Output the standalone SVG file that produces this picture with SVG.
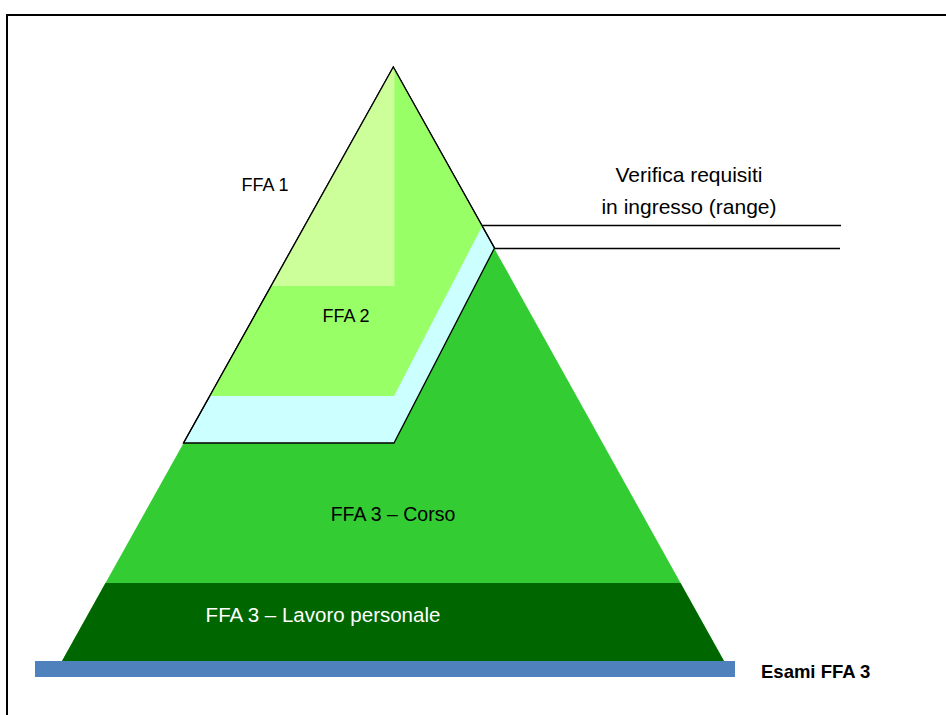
<svg xmlns="http://www.w3.org/2000/svg" width="946" height="715" viewBox="0 0 946 715">
<style>
text{font-family:"Liberation Sans",Arial,sans-serif;fill:#000}
.lbl{text-anchor:middle}
.conn{stroke:#000;stroke-width:1.3;fill:none}
</style>
<rect x="0" y="0" width="946" height="715" fill="#fff"/>
<rect x="7" y="15" width="960" height="720" fill="none" stroke="#000" stroke-width="2"/>
<g id="base-triangle">
<polygon points="393.3,67 62,661 724,661" fill="#33CC33"/>
</g>
<g id="ffa3-lavoro">
<polygon points="105.5,583 680.5,583 724,661 62,661" fill="#006600"/>
<text class="lbl" x="323" y="622" font-size="20.5" style="fill:#fff">FFA 3 – Lavoro personale</text>
</g>
<g id="ffa3-corso">
<text class="lbl" x="393" y="521" font-size="19.5">FFA 3 – Corso</text>
</g>
<g id="verifica-band">
<polygon points="393.3,67 183.5,443 394,443 494.5,248" fill="#CCFFFF" stroke="#000" stroke-width="1.3" stroke-linejoin="miter"/>
</g>
<g id="ffa2">
<polygon points="393.3,67 209.8,396 394,396 482,226.5" fill="#99FF66"/>
<text class="lbl" x="346" y="322" font-size="18">FFA 2</text>
</g>
<g id="ffa1">
<polygon points="393.3,67 271,286 394.5,286 394.5,67" fill="#CCFF99"/>
<text class="lbl" x="265" y="191" font-size="18">FFA 1</text>
</g>
<g id="outline">
<polyline points="183.5,443 393.3,67 494.5,248" fill="none" stroke="#000" stroke-width="1.3"/>
</g>
<g id="connectors">
<line class="conn" x1="482" y1="225.5" x2="841" y2="225.5"/>
<line class="conn" x1="494.5" y1="248.5" x2="840" y2="248.5"/>
</g>
<g id="verifica-label">
<text class="lbl" x="689" y="182" font-size="21">Verifica requisiti</text>
<text class="lbl" x="689" y="214" font-size="21">in ingresso (range)</text>
</g>
<g id="esami">
<rect x="35" y="661" width="700" height="16" fill="#4F81BD"/>
<text x="761" y="678" font-size="18.5" font-weight="bold">Esami FFA 3</text>
</g>
</svg>
